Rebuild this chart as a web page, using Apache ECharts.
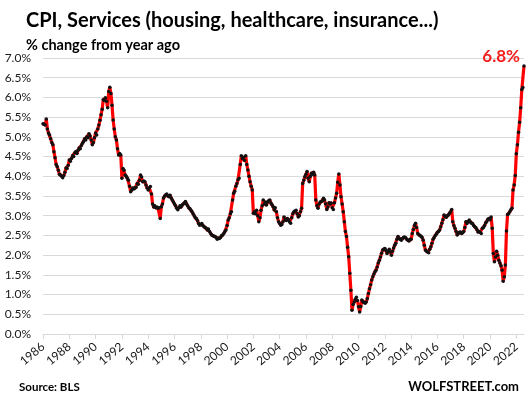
<!DOCTYPE html>
<html>
<head>
<meta charset="utf-8">
<title>CPI, Services</title>
<script src="https://cdn.jsdelivr.net/npm/echarts@6/dist/echarts.min.js"></script>
<style>
  html, body { margin: 0; padding: 0; background: #fff; }
  #main { width: 529px; height: 396px; }
</style>
</head>
<body>
<div id="main"></div>
<script>
// CPI services, % change from year ago, monthly Jan 1986 .. Aug 2022
var startYear = 1986;
var services = [
  5.33, 5.32, 5.30, 5.45, 5.20, 5.10, 5.05, 4.95, 4.86, 4.80, 4.62, 4.47, // 1986
  4.30, 4.24, 4.15, 4.05, 4.03, 4.00, 3.96, 4.02, 4.10, 4.21, 4.20, 4.28, // 1987
  4.41, 4.38, 4.45, 4.52, 4.50, 4.60, 4.63, 4.58, 4.66, 4.72, 4.70, 4.78, // 1988
  4.84, 4.88, 4.95, 4.92, 5.00, 4.98, 5.08, 5.02, 4.92, 4.80, 4.86, 4.98, // 1989
  5.10, 5.05, 5.20, 5.30, 5.42, 5.56, 5.70, 5.94, 5.92, 5.99, 5.90, 5.74, // 1990
  6.15, 6.26, 6.10, 5.80, 5.43, 5.20, 5.00, 4.92, 4.70, 4.54, 4.58, 4.54, // 1991
  3.95, 4.20, 4.15, 4.03, 4.00, 3.95, 3.90, 3.75, 3.61, 3.65, 3.70, 3.68, // 1992
  3.70, 3.72, 3.82, 3.80, 3.90, 4.03, 3.98, 3.86, 3.88, 3.86, 3.78, 3.70, // 1993
  3.65, 3.70, 3.74, 3.55, 3.30, 3.22, 3.25, 3.20, 3.22, 3.19, 3.20, 2.93, // 1994
  3.23, 3.30, 3.45, 3.50, 3.53, 3.55, 3.50, 3.48, 3.52, 3.45, 3.40, 3.35, // 1995
  3.30, 3.25, 3.19, 3.15, 3.20, 3.25, 3.22, 3.27, 3.30, 3.32, 3.36, 3.30, // 1996
  3.25, 3.20, 3.18, 3.14, 3.10, 3.05, 3.00, 2.95, 2.93, 2.88, 2.80, 2.76, // 1997
  2.78, 2.80, 2.75, 2.72, 2.70, 2.68, 2.64, 2.66, 2.60, 2.55, 2.51, 2.50, // 1998
  2.48, 2.47, 2.45, 2.40, 2.43, 2.42, 2.45, 2.50, 2.51, 2.55, 2.60, 2.64, // 1999
  2.75, 2.89, 2.95, 3.05, 3.10, 3.40, 3.57, 3.62, 3.75, 3.82, 3.91, 3.95, // 2000
  4.30, 4.52, 4.45, 4.48, 4.40, 4.52, 4.30, 4.16, 4.00, 3.86, 3.75, 3.65, // 2001
  3.06, 3.10, 3.05, 3.14, 3.00, 2.85, 2.95, 3.14, 3.25, 3.40, 3.30, 3.35, // 2002
  3.27, 3.35, 3.38, 3.40, 3.32, 3.28, 3.23, 3.15, 3.20, 3.10, 2.95, 2.85, // 2003
  2.80, 2.76, 2.78, 2.85, 2.97, 2.90, 2.88, 2.93, 2.90, 2.85, 2.81, 2.95, // 2004
  3.05, 3.10, 3.12, 3.14, 3.05, 2.97, 3.00, 3.10, 3.19, 3.82, 3.90, 3.99, // 2005
  4.05, 4.12, 3.95, 3.86, 4.00, 4.08, 4.05, 4.10, 4.03, 3.40, 3.25, 3.19, // 2006
  3.30, 3.35, 3.36, 3.38, 3.44, 3.40, 3.30, 3.16, 3.22, 3.33, 3.30, 3.32, // 2007
  3.20, 3.16, 3.33, 3.45, 3.57, 3.85, 4.06, 3.78, 3.48, 3.30, 3.10, 2.85, // 2008
  2.60, 2.47, 2.20, 1.96, 1.54, 1.11, 0.60, 0.75, 0.81, 0.88, 0.93, 0.85, // 2009
  0.69, 0.56, 0.70, 0.86, 0.82, 0.80, 0.78, 0.81, 0.90, 1.03, 1.15, 1.25, // 2010
  1.37, 1.45, 1.52, 1.58, 1.62, 1.70, 1.80, 1.87, 1.95, 2.05, 2.13, 2.15, // 2011
  2.17, 2.12, 2.04, 2.10, 2.15, 2.08, 2.00, 2.10, 2.18, 2.25, 2.30, 2.40, // 2012
  2.47, 2.42, 2.40, 2.38, 2.42, 2.45, 2.46, 2.44, 2.40, 2.38, 2.36, 2.40, // 2013
  2.40, 2.55, 2.65, 2.75, 2.81, 2.70, 2.55, 2.52, 2.50, 2.48, 2.45, 2.38, // 2014
  2.25, 2.13, 2.10, 2.08, 2.06, 2.15, 2.21, 2.30, 2.40, 2.45, 2.50, 2.53, // 2015
  2.58, 2.60, 2.64, 2.72, 2.81, 2.90, 3.02, 2.98, 2.96, 3.00, 3.02, 3.06, // 2016
  3.10, 3.16, 2.85, 2.75, 2.68, 2.60, 2.51, 2.55, 2.58, 2.59, 2.55, 2.57, // 2017
  2.60, 2.70, 2.85, 2.80, 2.85, 2.89, 2.85, 2.81, 2.80, 2.75, 2.72, 2.70, // 2018
  2.65, 2.59, 2.60, 2.58, 2.55, 2.68, 2.70, 2.75, 2.82, 2.85, 2.91, 2.93, // 2019
  2.90, 2.97, 2.68, 2.04, 1.83, 1.95, 2.10, 2.00, 1.87, 1.80, 1.73, 1.62, // 2020
  1.34, 1.45, 1.75, 2.61, 3.03, 3.05, 3.10, 3.15, 3.19, 3.65, 3.78, 4.02, // 2021
  4.57, 4.80, 5.12, 5.37, 5.74, 6.20, 6.25, 6.80                          // 2022
];
var lastLabel = '6.8%';

// month categories built from the start year
var months = [];
for (var i = 0; i < services.length; i++) {
  var y = startYear + Math.floor(i / 12);
  var m = i % 12 + 1;
  months.push(y + '-' + (m < 10 ? '0' + m : m));
}

function everyTwoYears(idx) { return idx % 24 === 0; }

var font = 'Lato, "Open Sans", sans-serif';
var myChart = echarts.init(document.getElementById('main'));

var option = {
  animation: false,
  backgroundColor: '#fff',
  textStyle: { fontFamily: font },
  title: [
    { text: 'CPI, Services (housing, healthcare, insurance...)', left: 21, top: 6,
      textStyle: { fontFamily: font, fontSize: 20, fontWeight: 'bold', color: '#000' } },
    { text: '% change from year ago', left: 21, top: 33,
      textStyle: { fontFamily: font, fontSize: 14.5, fontWeight: 'bold', color: '#000' } },
    { text: lastLabel, right: 4, top: 43,
      textStyle: { fontFamily: font, fontSize: 17, fontWeight: 'bold', color: '#f21d1d' } },
    { text: 'Source: BLS', left: 14, top: 376,
      textStyle: { fontFamily: font, fontSize: 11.5, fontWeight: 'bold', color: '#000' } },
    { text: 'WOLFSTREET.com', right: 5, top: 375,
      textStyle: { fontFamily: font, fontSize: 13, fontWeight: 'bold', color: '#000' } }
  ],
  grid: { left: 43, right: 5, top: 58, bottom: 62 },
  xAxis: {
    type: 'category',
    data: months,
    boundaryGap: false,
    axisLine: { lineStyle: { color: '#d9d9d9' } },
    axisTick: { show: true, interval: everyTwoYears, length: 5, lineStyle: { color: '#d9d9d9' } },
    axisLabel: {
      interval: everyTwoYears,
      rotate: 40,
      margin: 11,
      fontSize: 12,
      color: '#1a1a1a',
      formatter: function (v) { return v.slice(0, 4); }
    },
    splitLine: { show: false }
  },
  yAxis: {
    type: 'value',
    min: 0,
    max: 7,
    interval: 0.5,
    axisLine: { show: false },
    axisTick: { show: false },
    axisLabel: {
      fontSize: 12,
      margin: 12,
      color: '#1a1a1a',
      formatter: function (v) { return v.toFixed(1) + '%'; }
    },
    splitLine: { lineStyle: { color: '#d9d9d9', width: 1 } }
  },
  series: [{
    type: 'line',
    data: services,
    showAllSymbol: true,
    symbol: 'circle',
    symbolSize: 3.5,
    lineStyle: { color: '#ff0000', width: 3.2 },
    itemStyle: { color: '#111', borderWidth: 0 },
    emphasis: { disabled: true }
  }]
};

myChart.setOption(option);
</script>
</body>
</html>
